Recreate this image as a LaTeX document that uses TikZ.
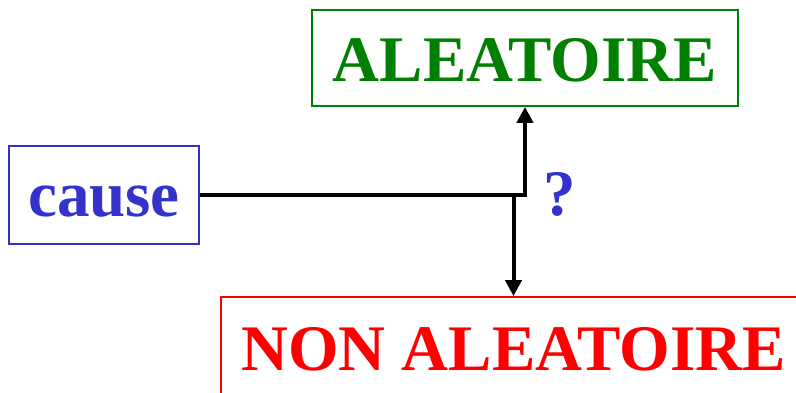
\documentclass[tikz,border=0pt]{standalone}
\usepackage{fontspec}
\setmainfont{Liberation Serif}
\usetikzlibrary{arrows.meta}
\definecolor{grn}{RGB}{0,128,0}
\definecolor{blu}{RGB}{51,51,204}
\definecolor{rd}{RGB}{255,0,0}
\begin{document}
\begin{tikzpicture}[x=1pt,y=-1pt,
  big/.style={font=\fontsize{65}{65}\selectfont\bfseries, inner xsep=0pt, inner ysep=0pt, anchor=base},
  boxed/.style={big, draw, line width=1.8pt},
  conn/.style={line width=4pt, -{Triangle[length=16pt,width=16pt]}}]
\useasboundingbox (0,0) rectangle (796,393);
\clip (0,0) rectangle (796,393);
\fill[white] (0,0) rectangle (796,393);
\node[boxed, draw=grn, text=grn, minimum width=426pt, text height=72pt, text depth=24pt] (alea) at (525,82) {ALEATOIRE};
\node[boxed, draw=blu, text=blu, minimum width=190pt, text height=71pt, text depth=27pt] (cause) at (104,217) {cause};
\node[boxed, draw=rd, text=rd, minimum width=585pt, text height=73pt, text depth=40pt] (non) at (513.5,370) {NON ALEATOIRE};
\node[big, text=blu] (q) at (559.5,215) {?};
\coordinate (j) at (non.north |- cause.east);
\draw[conn] (cause.east) -| (alea.south);
\draw[conn] (j) -- (non.north);
\end{tikzpicture}
\end{document}
